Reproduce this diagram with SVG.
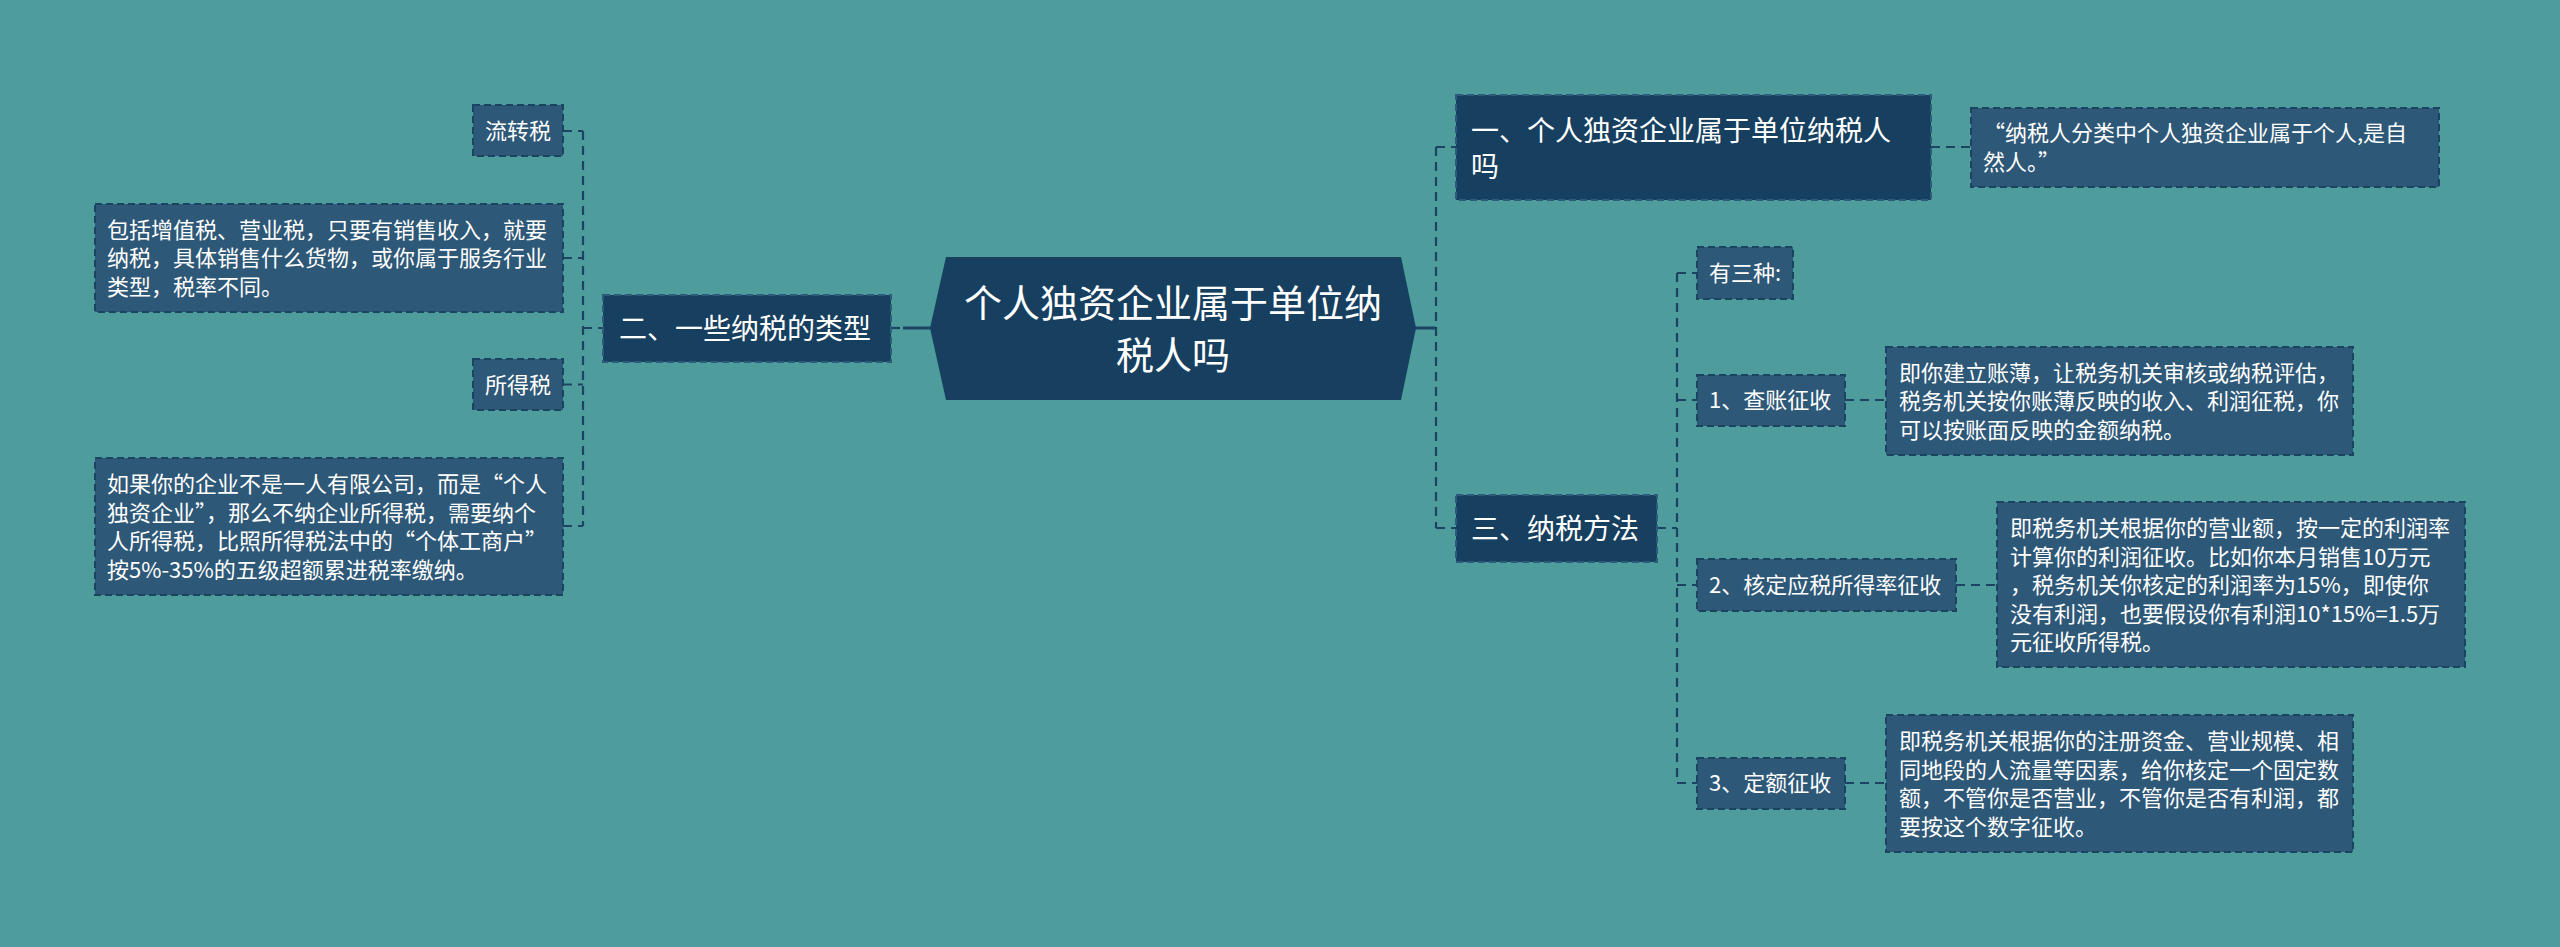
<svg xmlns="http://www.w3.org/2000/svg" width="2560" height="947" viewBox="0 0 2560 947">
<style>
text{font-family:"Noto Sans CJK SC","Noto Sans",sans-serif;fill:#ffffff}
.t37{font-size:38px}
.t28{font-size:28px}
.t22{font-size:22px}
.main{fill:#173f5f;stroke:#2d5b7b;stroke-width:2;stroke-dasharray:7 4}
.leaf{fill:#2e5877;stroke:#1b4362;stroke-width:2;stroke-dasharray:7 4}
.conn{fill:none;stroke:#1c4462;stroke-width:2.2;stroke-dasharray:9 6}
.solid{fill:none;stroke:#1c4462;stroke-width:3}
</style>
<rect x="0" y="0" width="2560" height="947" fill="#4e9c9c"/>
<g id="connectors">
<line class="conn" x1="583" y1="131" x2="583" y2="526"/>
<line class="conn" x1="563" y1="131" x2="583" y2="131"/>
<line class="conn" x1="563" y1="258" x2="583" y2="258"/>
<line class="conn" x1="563" y1="384.5" x2="583" y2="384.5"/>
<line class="conn" x1="563" y1="526" x2="583" y2="526"/>
<line class="conn" x1="583" y1="328" x2="603" y2="328"/>
<line class="conn" x1="891" y1="328" x2="903" y2="328"/>
<line class="solid" x1="903" y1="328" x2="931" y2="328"/>
<line class="solid" x1="1415" y1="328" x2="1436" y2="328"/>
<line class="conn" x1="1436" y1="147" x2="1436" y2="528"/>
<line class="conn" x1="1436" y1="147" x2="1456" y2="147"/>
<line class="conn" x1="1436" y1="528" x2="1456" y2="528"/>
<line class="conn" x1="1931" y1="147" x2="1971" y2="147"/>
<line class="conn" x1="1657" y1="528" x2="1677" y2="528"/>
<line class="conn" x1="1677" y1="273" x2="1677" y2="783"/>
<line class="conn" x1="1677" y1="273" x2="1697" y2="273"/>
<line class="conn" x1="1677" y1="400" x2="1697" y2="400"/>
<line class="conn" x1="1677" y1="585" x2="1697" y2="585"/>
<line class="conn" x1="1677" y1="783" x2="1697" y2="783"/>
<line class="conn" x1="1845" y1="400" x2="1886" y2="400"/>
<line class="conn" x1="1956" y1="585" x2="1997" y2="585"/>
<line class="conn" x1="1845" y1="783" x2="1886" y2="783"/>
</g>
<g id="center">
<polygon points="930,328 946,257 1401,257 1416,328 1401,400 946,400" fill="#173f5f"/>
<text class="t37" x="1173" y="317" text-anchor="middle">个人独资企业属于单位纳</text>
<text class="t37" x="1173" y="369" text-anchor="middle">税人吗</text>
</g>
<g id="n2">
<rect class="main" x="603" y="295" width="288" height="67"/>
<text class="t28" x="619" y="339">二、一些纳税的类型</text>
</g>
<g id="n2a">
<rect class="leaf" x="473" y="105" width="90" height="51"/>
<text class="t22" x="485" y="139">流转税</text>
</g>
<g id="n2a1">
<rect class="leaf" x="95" y="204" width="468" height="108"/>
<text class="t22" x="107" y="237.5">包括增值税、营业税，只要有销售收入，就要</text>
<text class="t22" x="107" y="266">纳税，具体销售什么货物，或你属于服务行业</text>
<text class="t22" x="107" y="294.5">类型，税率不同。</text>
</g>
<g id="n2b">
<rect class="leaf" x="473" y="359" width="90" height="51"/>
<text class="t22" x="485" y="393">所得税</text>
</g>
<g id="n2b1">
<rect class="leaf" x="95" y="458" width="468" height="137"/>
<text class="t22" x="107" y="492">如果你的企业不是一人有限公司，而是“个人</text>
<text class="t22" x="107" y="520.5">独资企业”，那么不纳企业所得税，需要纳个</text>
<text class="t22" x="107" y="549">人所得税，比照所得税法中的“个体工商户”</text>
<text class="t22" x="107" y="577.5">按5%-35%的五级超额累进税率缴纳。</text>
</g>
<g id="n1">
<rect class="main" x="1456" y="95" width="475" height="105"/>
<text class="t28" x="1471" y="141">一、个人独资企业属于单位纳税人</text>
<text class="t28" x="1471" y="177">吗</text>
</g>
<g id="n1a">
<rect class="leaf" x="1971" y="108" width="468" height="79"/>
<text class="t22" x="1983" y="141">“纳税人分类中个人独资企业属于个人,是自</text>
<text class="t22" x="1983" y="170">然人。”</text>
</g>
<g id="n3">
<rect class="main" x="1456" y="495" width="201" height="67"/>
<text class="t28" x="1471" y="539">三、纳税方法</text>
</g>
<g id="n3a">
<rect class="leaf" x="1697" y="247" width="96" height="52"/>
<text class="t22" x="1709" y="281">有三种:</text>
</g>
<g id="n3b">
<rect class="leaf" x="1697" y="375" width="148" height="51"/>
<text class="t22" x="1709" y="408">1、查账征收</text>
</g>
<g id="n3b1">
<rect class="leaf" x="1886" y="347" width="467" height="108"/>
<text class="t22" x="1899" y="380.5">即你建立账薄，让税务机关审核或纳税评估，</text>
<text class="t22" x="1899" y="409">税务机关按你账薄反映的收入、利润征税，你</text>
<text class="t22" x="1899" y="437.5">可以按账面反映的金额纳税。</text>
</g>
<g id="n3c">
<rect class="leaf" x="1697" y="559" width="259" height="52"/>
<text class="t22" x="1709" y="593">2、核定应税所得率征收</text>
</g>
<g id="n3c1">
<rect class="leaf" x="1997" y="502" width="468" height="165"/>
<text class="t22" x="2010" y="536">即税务机关根据你的营业额，按一定的利润率</text>
<text class="t22" x="2010" y="564.5">计算你的利润征收。比如你本月销售10万元</text>
<text class="t22" x="2010" y="593">，税务机关你核定的利润率为15%，即使你</text>
<text class="t22" x="2010" y="621.5">没有利润，也要假设你有利润10*15%=1.5万</text>
<text class="t22" x="2010" y="650">元征收所得税。</text>
</g>
<g id="n3d">
<rect class="leaf" x="1697" y="758" width="148" height="51"/>
<text class="t22" x="1709" y="791">3、定额征收</text>
</g>
<g id="n3d1">
<rect class="leaf" x="1886" y="715" width="467" height="137"/>
<text class="t22" x="1899" y="749">即税务机关根据你的注册资金、营业规模、相</text>
<text class="t22" x="1899" y="777.5">同地段的人流量等因素，给你核定一个固定数</text>
<text class="t22" x="1899" y="806">额，不管你是否营业，不管你是否有利润，都</text>
<text class="t22" x="1899" y="834.5">要按这个数字征收。</text>
</g>
</svg>
